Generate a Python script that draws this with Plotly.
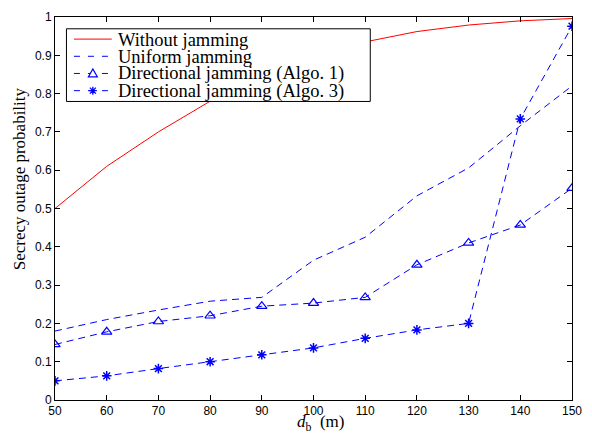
import plotly.graph_objects as go

d_b = [50, 60, 70, 80, 90, 100, 110, 120, 130, 140, 150]
without_jamming = [0.50, 0.61, 0.70, 0.78, 0.845, 0.895, 0.935, 0.962, 0.979, 0.99, 0.996]
uniform_jamming = [0.18, 0.21, 0.235, 0.258, 0.268, 0.365, 0.425, 0.533, 0.606, 0.716, 0.82]
algo1 = [0.145, 0.178, 0.205, 0.22, 0.245, 0.253, 0.268, 0.353, 0.41, 0.457, 0.553]
algo3 = [0.05, 0.063, 0.082, 0.1, 0.118, 0.136, 0.161, 0.183, 0.2, 0.734, 0.976]

series_names = ["Without jamming", "Uniform jamming",
                "Directional jamming (Algo. 1)", "Directional jamming (Algo. 3)"]

x_ticks = [50, 60, 70, 80, 90, 100, 110, 120, 130, 140, 150]
y_ticks = [0, 0.1, 0.2, 0.3, 0.4, 0.5, 0.6, 0.7, 0.8, 0.9, 1]
y_tick_labels = ["0", "0.1", "0.2", "0.3", "0.4", "0.5", "0.6", "0.7", "0.8", "0.9", "1"]

blue = "#0000ff"
red = "#ff0000"
dash = "7px,5px"
serif = "Liberation Serif, Times New Roman, serif"

fig = go.Figure()
fig.add_trace(go.Scatter(x=d_b, y=without_jamming, mode="lines", name=series_names[0],
                         line=dict(color=red, width=1), showlegend=False))
fig.add_trace(go.Scatter(x=d_b, y=uniform_jamming, mode="lines", name=series_names[1],
                         line=dict(color=blue, width=1, dash=dash), showlegend=False))
fig.add_trace(go.Scatter(x=d_b, y=algo1, mode="lines+markers", name=series_names[2],
                         line=dict(color=blue, width=1, dash=dash),
                         marker=dict(symbol="triangle-up-open", size=9, color=blue,
                                     line=dict(color=blue, width=1.2)), showlegend=False))
fig.add_trace(go.Scatter(x=d_b, y=algo3, mode="lines+markers", name=series_names[3],
                         line=dict(color=blue, width=1, dash=dash),
                         marker=dict(symbol="asterisk-open", size=8, color=blue,
                                     line=dict(color=blue, width=1.5)), showlegend=False))

axis_common = dict(showline=True, linecolor="black", linewidth=1, mirror="ticks",
                   ticks="inside", ticklen=5, tickcolor="black", showgrid=False, zeroline=False,
                   tickfont=dict(family="Liberation Sans, Arial", size=12, color="black"))

fig.update_xaxes(range=[50, 150], tickvals=x_ticks, **axis_common)
fig.update_yaxes(range=[0, 1], tickvals=y_ticks, ticktext=y_tick_labels, **axis_common)

# plot area in pixels (for placing legend / titles)
L, R, T, B = 55, 574, 10, 400
def px(xp):
    return (xp - L) / (R - L)
def py(yp):
    return (B - yp) / (B - T)

shapes = []
annotations = []

# legend box
shapes.append(dict(type="rect", xref="paper", yref="paper",
                   x0=px(66.5), x1=px(371.5), y0=py(96), y1=py(22),
                   line=dict(color="black", width=1), fillcolor="white", layer="above"))
row_y = [32.5, 50, 67.5, 85]
styles = [dict(color=red, width=1), dict(color=blue, width=1, dash="6px,8px"),
          dict(color=blue, width=1, dash="6px,8px"), dict(color=blue, width=1, dash="6px,8px")]
for i, name in enumerate(series_names):
    shapes.append(dict(type="line", xref="paper", yref="paper",
                       x0=px(74), x1=px(112), y0=py(row_y[i]), y1=py(row_y[i]),
                       line=styles[i], layer="above"))
    annotations.append(dict(text=name, xref="paper", yref="paper", x=px(116.5), y=py(row_y[i] + 0.5),
                            xanchor="left", yanchor="middle", showarrow=False,
                            font=dict(family=serif, size=18.5, color="black")))

# legend marker: triangle
shapes.append(dict(type="path", xref="paper", yref="paper", xsizemode="pixel", ysizemode="pixel",
                   xanchor=px(93), yanchor=py(row_y[2]),
                   path="M -4.5 -3.5 L 4.5 -3.5 L 0 4.5 Z",
                   line=dict(color=blue, width=1.2), fillcolor="white", layer="above"))
# legend marker: asterisk
shapes.append(dict(type="path", xref="paper", yref="paper", xsizemode="pixel", ysizemode="pixel",
                   xanchor=px(93), yanchor=py(row_y[3]),
                   path="M -4 0 L 4 0 M 0 -4 L 0 4 M -3 -3 L 3 3 M -3 3 L 3 -3",
                   line=dict(color=blue, width=1.3), layer="above"))

# axis titles
annotations.append(dict(text="<i>d</i><sub>b</sub>&nbsp;&nbsp;(m)", xref="paper", yref="paper",
                        x=px(322), y=py(437), xanchor="center", yanchor="bottom", showarrow=False,
                        font=dict(family=serif, size=17, color="black")))
annotations.append(dict(text="Secrecy outage probability", xref="paper", yref="paper",
                        x=px(19), y=py(175), xanchor="center", yanchor="middle", showarrow=False,
                        textangle=-90, font=dict(family=serif, size=17, color="black")))

fig.update_layout(
    width=592, height=438,
    margin=dict(l=L, r=592 - R, t=T, b=438 - B),
    plot_bgcolor="white", paper_bgcolor="white",
    showlegend=False,
    shapes=shapes, annotations=annotations,
)

fig.write_html("out.html")
